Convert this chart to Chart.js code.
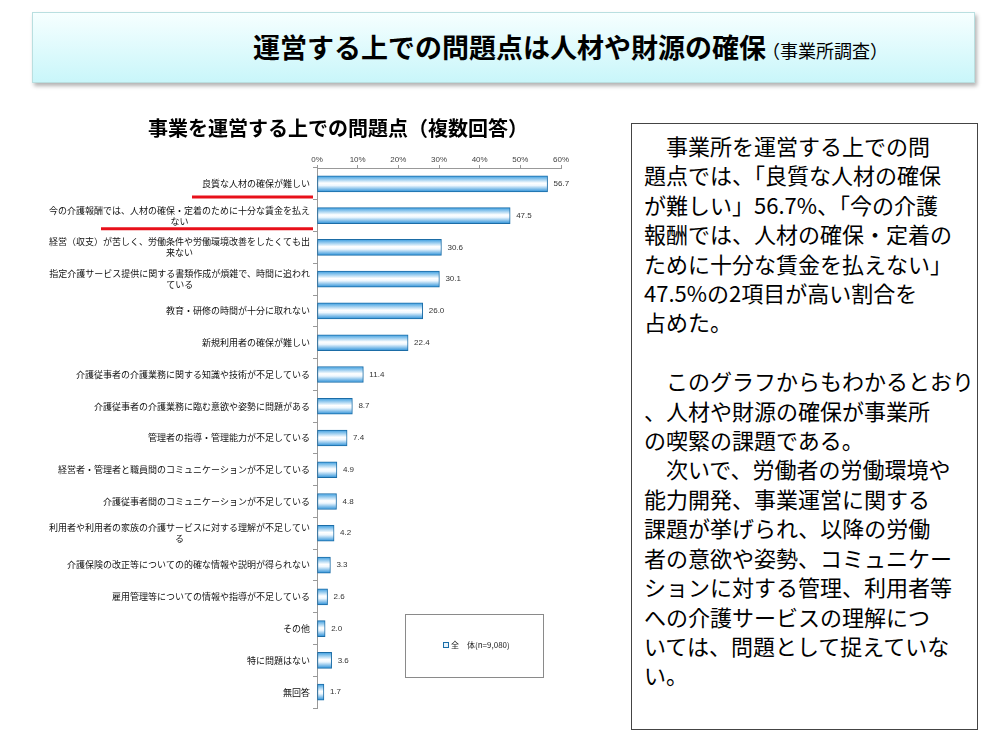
<!DOCTYPE html>
<html lang="ja">
<head>
<meta charset="utf-8">
<script src="https://cdn.jsdelivr.net/npm/chart.js@4"></script>
<style>
  body { margin: 0; background: #fff; font-family: "Noto Sans CJK JP", sans-serif; }
  #page { position: relative; width: 1000px; height: 747px; overflow: hidden; }
  #banner {
    position: absolute; left: 32px; top: 12px; width: 941px; height: 69px;
    background: linear-gradient(to bottom, #f6ffff, #c9f6fa);
    border: 1px solid #b9dfe0;
    box-shadow: 2px 3px 4px rgba(0,0,0,0.3);
  }
  #banner .t {
    position: absolute; left: 220px; top: 17px; white-space: nowrap;
    font-weight: bold; font-size: 27px; line-height: 34px; color: #000;
  }
  #banner .t small { font-size: 18px; font-weight: normal; margin-left: -4px; }
  #chartWrap { position: absolute; left: 46px; top: 100px; width: 584px; height: 620px; }
  #note {
    position: absolute; left: 631px; top: 123px; width: 347px; height: 607px;
    border: 1px solid #444; box-sizing: border-box;
    padding: 7px 0 0 12px;
    font-size: 22px; line-height: 29.4px; white-space: pre; color: #000;
  }
</style>
</head>
<body>
<div id="page">
  <div id="banner"><div class="t">運営する上での問題点は人材や財源の確保<small>（事業所調査）</small></div></div>
  <div id="chartWrap"><canvas id="myChart" width="584" height="620"></canvas></div>
  <div id="note">　事業所を運営する上での問
題点では、「良質な人材の確保
が難しい」56.7%、「今の介護
報酬では、人材の確保・定着の
ために十分な賃金を払えない」
47.5%の2項目が高い割合を
占めた。

　このグラフからもわかるとおり
、人材や財源の確保が事業所
の喫緊の課題である。
　次いで、労働者の労働環境や
能力開発、事業運営に関する
課題が挙げられ、以降の労働
者の意欲や姿勢、コミュニケー
ションに対する管理、利用者等
への介護サービスの理解につ
いては、問題として捉えていな
い。</div>
</div>
<script>
const ctx = document.getElementById('myChart');

const categories = [
    ['良質な人材の確保が難しい'],
    ['今の介護報酬では、人材の確保・定着のために十分な賃金を払え', 'ない'],
    ['経営（収支）が苦しく、労働条件や労働環境改善をしたくても出', '来ない'],
    ['指定介護サービス提供に関する書類作成が煩雑で、時間に追われ', 'ている'],
    ['教育・研修の時間が十分に取れない'],
    ['新規利用者の確保が難しい'],
    ['介護従事者の介護業務に関する知識や技術が不足している'],
    ['介護従事者の介護業務に臨む意欲や姿勢に問題がある'],
    ['管理者の指導・管理能力が不足している'],
    ['経営者・管理者と職員間のコミュニケーションが不足している'],
    ['介護従事者間のコミュニケーションが不足している'],
    ['利用者や利用者の家族の介護サービスに対する理解が不足してい', 'る'],
    ['介護保険の改正等についての的確な情報や説明が得られない'],
    ['雇用管理等についての情報や指導が不足している'],
    ['その他'],
    ['特に問題はない'],
    ['無回答']
];
const values = [56.7, 47.5, 30.6, 30.1, 26.0, 22.4, 11.4, 8.7, 7.4, 4.9, 4.8, 4.2, 3.3, 2.6, 2.0, 3.6, 1.7];
const seriesLabel = '全　体(n=9,080)';
const tickLabels = ['0%', '10%', '20%', '30%', '40%', '50%', '60%'];
const highlighted = [0, 1]; // underlined in red

const jpFont = '"Noto Sans CJK JP", sans-serif';

function barGradient(context) {
    const chart = context.chart;
    const yScale = chart.scales.y;
    if (!chart.chartArea || !yScale || context.dataIndex === undefined) {
        return '#9fd2f2';
    }
    const y = yScale.getPixelForValue(context.dataIndex);
    const g = chart.ctx.createLinearGradient(0, y - 8, 0, y + 8);
    g.addColorStop(0, '#3a9de0');
    g.addColorStop(0.45, '#ffffff');
    g.addColorStop(0.6, '#eef7fe');
    g.addColorStop(1, '#2a90d8');
    return g;
}

// category labels: right aligned, wrapped lines centred like the original
const categoryLabels = {
    id: 'categoryLabels',
    afterDraw(chart) {
        const c = chart.ctx;
        const yScale = chart.scales.y;
        const right = chart.chartArea.left - 7;
        c.save();
        c.font = '9px ' + jpFont;
        c.fillStyle = '#111';
        c.textAlign = 'center';
        c.textBaseline = 'middle';
        categories.forEach((lines, i) => {
            const y = yScale.getPixelForValue(i);
            const w = Math.max(...lines.map(l => c.measureText(l).width));
            const cx = right - w / 2;
            const lh = 11;
            lines.forEach((l, k) => {
                c.fillText(l, cx, y + (k - (lines.length - 1) / 2) * lh);
            });
        });
        // red underline under the two main items
        c.strokeStyle = '#e8101a';
        c.lineWidth = 3;
        highlighted.forEach(i => {
            const y = yScale.getPixelForValue(i) + 13;
            const lines = categories[i];
            const w = Math.max(...lines.map(l => c.measureText(l).width));
            c.beginPath();
            c.moveTo(Math.max(right - w - 10, 55), y);
            c.lineTo(chart.chartArea.left - 4, y);
            c.stroke();
        });
        c.restore();
    }
};

const valueLabels = {
    id: 'valueLabels',
    afterDatasetsDraw(chart) {
        const c = chart.ctx;
        const meta = chart.getDatasetMeta(0);
        c.save();
        c.font = '8px "Liberation Sans", Arial, sans-serif';
        c.fillStyle = '#333';
        c.textAlign = 'left';
        c.textBaseline = 'middle';
        meta.data.forEach((bar, i) => {
            c.fillText(values[i].toFixed(1), bar.x + 6, bar.y);
        });
        c.restore();
    }
};

const boxLegend = {
    id: 'boxLegend',
    afterDraw(chart) {
        const c = chart.ctx;
        const x = 359, y = 514, w = 138, h = 63;
        c.save();
        c.strokeStyle = '#8a8a8a';
        c.lineWidth = 1;
        c.strokeRect(x + 0.5, y + 0.5, w, h);
        c.font = '8px ' + jpFont;
        c.fillStyle = '#222';
        c.textBaseline = 'middle';
        c.fillText(chart.data.datasets[0].label, x + 46, y + 31);
        c.fillStyle = '#e8f4fc';
        c.fillRect(x + 38.5, y + 28.5, 5, 5);
        c.strokeStyle = '#1a6ea8';
        c.strokeRect(x + 38.5, y + 28.5, 5, 5);
        c.restore();
    }
};

const myChart = new Chart(ctx, {
    type: 'bar',
    data: {
        labels: categories.map(l => l.join('')),
        datasets: [{
            label: seriesLabel,
            data: values,
            backgroundColor: barGradient,
            borderColor: '#1b6ca6',
            borderWidth: 1,
            borderSkipped: false,
            barThickness: 16
        }]
    },
    options: {
        indexAxis: 'y',
        responsive: false,
        animation: false,
        layout: {
            padding: { left: 0, right: 0, top: 0, bottom: 12 }
        },
        plugins: {
            legend: { display: false },
            tooltip: { enabled: false },
            title: {
                display: true,
                text: '事業を運営する上での問題点（複数回答）',
                color: '#000',
                font: { size: 20, weight: 'bold', family: jpFont },
                padding: { top: 16, bottom: 10 }
            }
        },
        scales: {
            x: {
                position: 'top',
                min: 0,
                max: 60,
                afterFit: scale => { scale.height = 18; },
                ticks: {
                    stepSize: 10,
                    padding: 0,
                    color: '#444',
                    font: { size: 8, family: '"Liberation Sans", Arial, sans-serif' },
                    callback: (v, i) => tickLabels[i]
                },
                grid: { drawOnChartArea: false, tickLength: 3, color: '#999' },
                border: { color: '#999' }
            },
            y: {
                afterFit: scale => { scale.width = 271; },
                ticks: { display: false },
                grid: { offset: true, drawOnChartArea: false, tickLength: 4, color: '#999' },
                border: { color: '#999' }
            },
            // empty right axis: keeps room for the value labels
            yRight: {
                position: 'right',
                afterFit: scale => { scale.width = 69; },
                ticks: { display: false },
                grid: { display: false },
                border: { display: false }
            }
        }
    },
    plugins: [categoryLabels, valueLabels, boxLegend]
});
</script>
</body>
</html>
